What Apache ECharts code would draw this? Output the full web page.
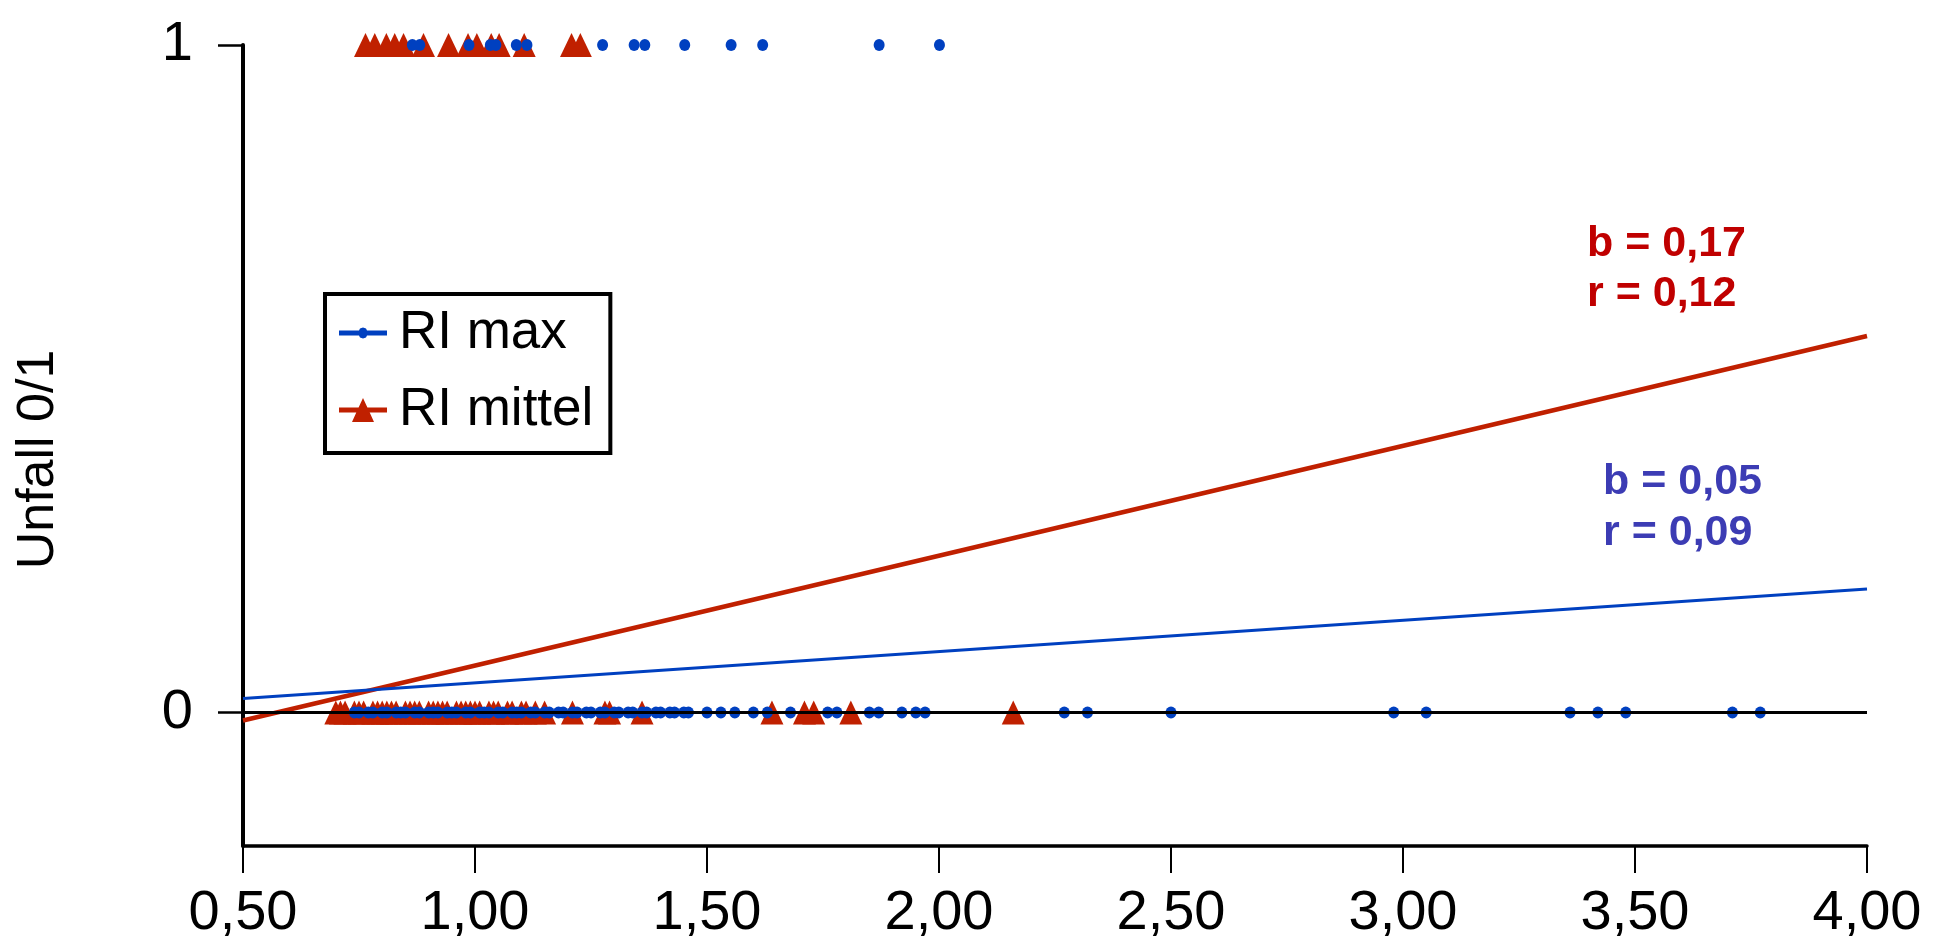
<!DOCTYPE html>
<html>
<head>
<meta charset="utf-8">
<title>Unfall 0/1</title>
<script src="https://cdn.jsdelivr.net/npm/echarts@6/dist/echarts.min.js"></script>
<style>
html, body {
  margin: 0;
  padding: 0;
  background: #fff;
}
#chart {
  width: 1943px;
  height: 944px;
}
</style>
</head>
<body>
<div id="chart"></div>
<script>
// x-Werte der Punkte (RI), y = Unfall 0/1
var maxTop = [0.865, 0.881, 0.987, 1.033, 1.045, 1.089, 1.112, 1.275, 1.343, 1.366, 1.452, 1.552, 1.620, 1.871, 2.001];
var maxBottom = [
  0.74, 0.75, 0.77, 0.78, 0.80, 0.81, 0.83, 0.84, 0.85, 0.87, 0.88, 0.90, 0.91, 0.92, 0.94, 0.95,
  0.96, 0.98, 0.99, 1.01, 1.02, 1.03, 1.05, 1.06, 1.08, 1.09, 1.10, 1.12, 1.13, 1.15, 1.16, 1.18,
  1.19, 1.21, 1.22, 1.24, 1.25, 1.27, 1.28, 1.30, 1.31, 1.33, 1.34, 1.36, 1.37, 1.39, 1.40, 1.42,
  1.43, 1.45, 1.46, 1.50, 1.53, 1.56, 1.60, 1.63, 1.68, 1.76, 1.78, 1.85, 1.87, 1.92, 1.95, 1.97,
  2.27, 2.32, 2.50, 2.98, 3.05, 3.36, 3.42, 3.48, 3.71, 3.77
];
var mittelTop = [0.764, 0.784, 0.809, 0.827, 0.846, 0.889, 0.943, 0.985, 1.004, 1.035, 1.052, 1.106, 1.208, 1.227];
var mittelBottom = [
  0.70, 0.71, 0.72, 0.74, 0.75, 0.76, 0.78, 0.79, 0.80, 0.81, 0.82, 0.83, 0.85, 0.86, 0.87, 0.88,
  0.90, 0.91, 0.92, 0.93, 0.94, 0.96, 0.97, 0.98, 0.99, 1.00, 1.01, 1.03, 1.04, 1.05, 1.07, 1.08,
  1.10, 1.11, 1.13, 1.15, 1.21, 1.28, 1.29, 1.36, 1.64, 1.71, 1.73, 1.81, 2.16
];
// Regressionsgeraden (Endpunkte bei x = 0,50 und 4,00)
var lineX = [0.5, 4.0];
var maxLineY = [0.021, 0.185];
var mittelLineY = [-0.012, 0.564];
var xTicks = [0.5, 1.0, 1.5, 2.0, 2.5, 3.0, 3.5, 4.0];
var yTicks = [0, 1];

var blue = "#0040c0";
var red = "#c02000";

function pts(xs, y) {
  var out = [];
  for (var i = 0; i < xs.length; i++) {
    out.push([xs[i], y]);
  }
  return out;
}
function linePts(xs, ys) {
  var out = [];
  for (var i = 0; i < xs.length; i++) {
    out.push([xs[i], ys[i]]);
  }
  return out;
}

var chart = echarts.init(document.getElementById("chart"));
var font = "'Liberation Sans', Arial, sans-serif";

var option = {
  backgroundColor: "#fff",
  animation: false,
  grid: {
    left: 243,
    right: 76,
    top: 45,
    bottom: 98,
    containLabel: false,
    outerBoundsMode: "none"
  },
  legend: {
    orient: "vertical",
    left: 325,
    top: 294,
    padding: [9, 17, 13, 14],
    itemGap: 17,
    itemWidth: 48,
    itemHeight: 24,
    borderColor: "#000",
    borderWidth: 4,
    borderRadius: 0,
    selectedMode: false,
    textStyle: {
      color: "#000",
      fontFamily: font,
      fontSize: 53,
      lineHeight: 60,
      padding: [0, 0, 0, 7]
    },
    data: [
      { name: "RI max", icon: "path://M0,9.5L20,9.5L21,7.5L24,6.5L27,7.5L28,9.5L48,9.5L48,14.5L28,14.5L27,16.5L24,17.5L21,16.5L20,14.5L0,14.5Z" },
      { name: "RI mittel", icon: "path://M0,9.5L19.6,9.5L24,0L28.4,9.5L48,9.5L48,14.5L30.7,14.5L35,24L13,24L17.3,14.5L0,14.5Z" }
    ]
  },
  xAxis: {
    type: "value",
    min: 0.5,
    max: 4.0,
    interval: 0.5,
    axisLine: { onZero: false, lineStyle: { color: "#000", width: 3.5 } },
    axisTick: { show: true, length: 27, customValues: xTicks, lineStyle: { color: "#000", width: 2 } },
    axisLabel: {
      margin: 40,
      color: "#000",
      fontFamily: font,
      fontSize: 56,
      formatter: function (v) {
        return v.toFixed(2).replace(".", ",");
      }
    },
    splitLine: { show: false }
  },
  yAxis: {
    type: "value",
    min: -0.2,
    max: 1,
    interval: 0.2,
    name: "Unfall 0/1",
    nameLocation: "middle",
    nameRotate: 90,
    nameGap: 178,
    nameTextStyle: {
      color: "#000",
      fontFamily: font,
      fontSize: 52,
      padding: [0, 28, 0, 0]
    },
    axisLine: { onZero: false, lineStyle: { color: "#000", width: 4 } },
    axisTick: { show: true, length: 25, customValues: yTicks, lineStyle: { color: "#000", width: 2.5 } },
    axisLabel: {
      customValues: yTicks,
      margin: 50,
      color: "#000",
      fontFamily: font,
      fontSize: 56
    },
    splitLine: { show: false }
  },
  graphic: [
    {
      type: "text",
      left: 1587,
      top: 219,
      style: {
        text: "b = 0,17\nr = 0,12",
        fill: "#c00000",
        fontFamily: font,
        fontWeight: "bold",
        fontSize: 43,
        lineHeight: 50
      }
    },
    {
      type: "text",
      left: 1603,
      top: 457,
      style: {
        text: "b = 0,05\nr = 0,09",
        fill: "#3c3cb4",
        fontFamily: font,
        fontWeight: "bold",
        fontSize: 43,
        lineHeight: 51
      }
    }
  ],
  series: [
    {
      name: "RI mittel line",
      type: "line",
      data: linePts(lineX, mittelLineY),
      symbol: "none",
      lineStyle: { color: red, width: 4.5 },
      silent: true,
      z: 2
    },
    {
      name: "RI max line",
      type: "line",
      data: linePts(lineX, maxLineY),
      symbol: "none",
      lineStyle: { color: blue, width: 3 },
      silent: true,
      z: 2
    },
    {
      name: "RI mittel",
      type: "scatter",
      data: pts(mittelTop, 1).concat(pts(mittelBottom, 0)),
      symbol: "triangle",
      symbolSize: [23, 24],
      itemStyle: { color: red, opacity: 1 },
      z: 3
    },
    {
      name: "RI max",
      type: "scatter",
      data: pts(maxTop, 1).concat(pts(maxBottom, 0)),
      symbol: "circle",
      symbolSize: [11, 12],
      itemStyle: { color: blue, opacity: 1 },
      z: 4
    },
    {
      // schwarze Nulllinie ueber den Punkten
      name: "null",
      type: "line",
      data: [],
      silent: true,
      z: 5,
      markLine: {
        silent: true,
        symbol: "none",
        label: { show: false },
        lineStyle: { color: "#000", width: 3, type: "solid" },
        data: [{ yAxis: 0 }]
      }
    }
  ]
};

chart.setOption(option);
</script>
</body>
</html>
